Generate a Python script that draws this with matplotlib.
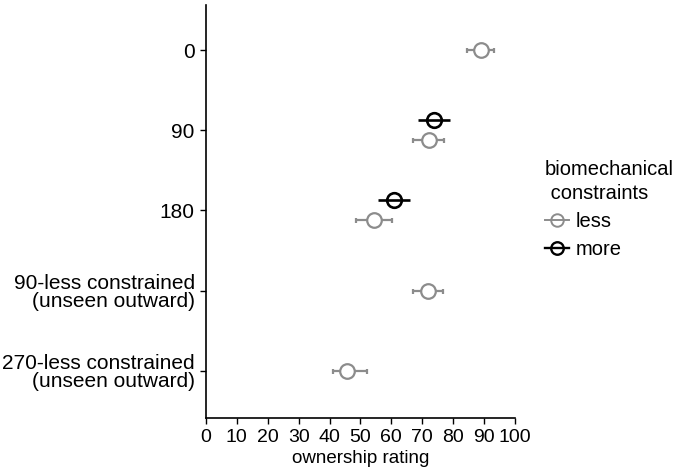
import numpy as np
import matplotlib
matplotlib.use('Agg')
from matplotlib import pyplot as plt
from matplotlib.lines import Line2D

plt.rcParams['font.family'] = ['Liberation Sans', 'DejaVu Sans']

categories = ['0', '90', '180', '90-less constrained\n(unseen outward)',
              '270-less constrained\n(unseen outward)']

# less constrained condition (grey)
less_mean = [89.0, 72.2, 54.4, 71.8, 45.6]
less_lo = [84.5, 67.0, 48.5, 67.0, 41.1]
less_hi = [93.2, 77.0, 60.2, 76.7, 52.1]

# more constrained condition (black), only for 90 and 180
more_cats = ['90', '180']
more_mean = [73.8, 60.8]
more_lo = [68.6, 55.7]
more_hi = [79.0, 66.0]

grey = '#8c8c8c'
dodge = 0.125

fig = plt.figure(figsize=(6.75, 4.73), dpi=100)
ax = fig.add_axes([0.305, 0.116, 0.458, 0.873])

ypos = {c: len(categories) - i for i, c in enumerate(categories)}

less_y = []
for c in categories:
    y = ypos[c]
    if c in more_cats:
        y = y - dodge
    less_y.append(y)
less_y = np.array(less_y)
less_mean = np.array(less_mean)
ax.errorbar(less_mean, less_y,
            xerr=[less_mean - np.array(less_lo), np.array(less_hi) - less_mean],
            fmt='o', color=grey, mfc='white', mec=grey, ms=10.5, mew=1.6,
            elinewidth=1.6, capsize=1.8, capthick=1.6, zorder=3)

more_y = np.array([ypos[c] + dodge for c in more_cats])
more_mean = np.array(more_mean)
ax.errorbar(more_mean, more_y,
            xerr=[more_mean - np.array(more_lo), np.array(more_hi) - more_mean],
            fmt='o', color='black', mfc='none', mec='black', ms=10.5, mew=1.9,
            elinewidth=1.9, capsize=0, zorder=4)

ax.set_xlim(0, 100)
ax.set_ylim(0.41, 5.56)
ax.set_xticks(range(0, 101, 10))
ax.set_yticks([ypos[c] for c in categories])
ax.set_yticklabels(categories, ha='right', multialignment='right', linespacing=0.95)
ax.tick_params(length=4, width=1, colors='black', pad=4)
ax.tick_params(axis='x', labelsize=14)
ax.tick_params(axis='y', labelsize=15)
ax.set_xlabel('ownership rating', fontsize=13.5, labelpad=3)

for s in ['top', 'right']:
    ax.spines[s].set_visible(False)
for s in ['left', 'bottom']:
    ax.spines[s].set_linewidth(1.2)

handles = [
    Line2D([0], [0], color=grey, marker='o', mfc='none', mec=grey, ms=9, mew=1.4, lw=1.4),
    Line2D([0], [0], color='black', marker='o', mfc='none', mec='black', ms=9, mew=1.7, lw=1.7),
]
leg = fig.legend(handles, ['less', 'more'], title='biomechanical\n constraints',
                 loc='upper left', bbox_to_anchor=(545 / 675, 1 - 160 / 473),
                 bbox_transform=fig.transFigure, frameon=False, borderpad=0,
                 borderaxespad=0, fontsize=14.5, title_fontsize=14.5,
                 handlelength=1.2, handletextpad=0.3, labelspacing=0.45,
                 alignment='left')
leg.get_title().set_linespacing(1.3)

fig.savefig('out.png', dpi=100)
